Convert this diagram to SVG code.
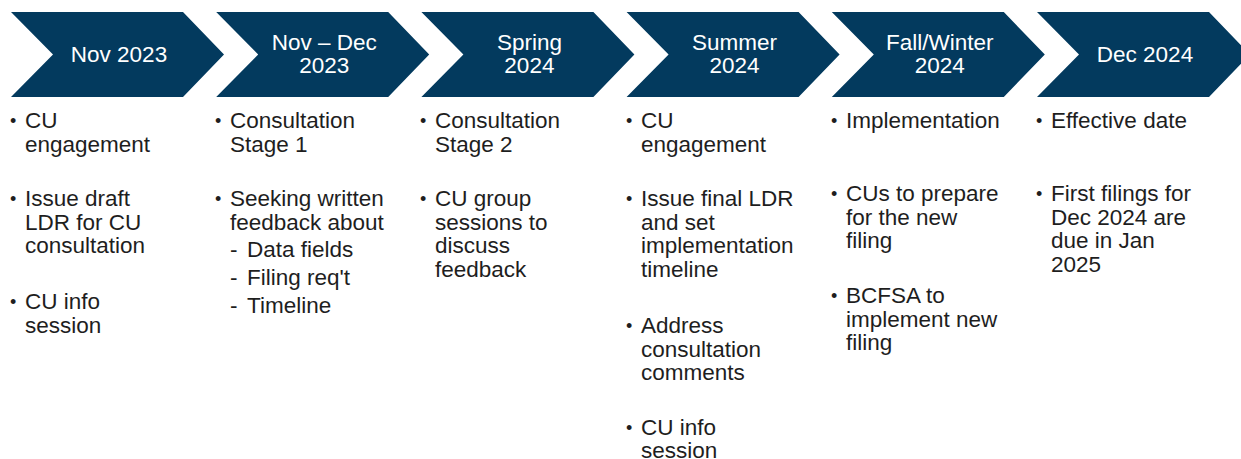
<svg xmlns="http://www.w3.org/2000/svg" width="1241" height="459" viewBox="0 0 1241 459">
<style>
.chev{fill:#033a5e;}
.h{font-family:"Liberation Sans",Arial,sans-serif;font-size:22.5px;fill:#ffffff;text-anchor:middle;}
.b{font-family:"Liberation Sans",Arial,sans-serif;font-size:22.5px;fill:#1e1e1e;}
.d{font-family:"Liberation Sans",Arial,sans-serif;font-size:18px;fill:#1e1e1e;}
</style>
<rect width="1241" height="459" fill="#ffffff"/>
<g id="stage1">
<path class="chev" d="M11,12 L183,12 L224,54.5 L183,97 L11,97 L53,54.5 Z"/>
<text class="h" x="119" y="62">Nov 2023</text>
<text class="d" x="10" y="127">•</text>
<text class="b" x="25" y="128">CU</text>
<text class="b" x="25" y="151.5">engagement</text>
<text class="d" x="10" y="205">•</text>
<text class="b" x="25" y="206">Issue draft</text>
<text class="b" x="25" y="229.5">LDR for CU</text>
<text class="b" x="25" y="253">consultation</text>
<text class="d" x="10" y="308">•</text>
<text class="b" x="25" y="309">CU info</text>
<text class="b" x="25" y="332.5">session</text>
</g>
<g id="stage2">
<path class="chev" d="M216.2,12 L388.2,12 L429.2,54.5 L388.2,97 L216.2,97 L258.2,54.5 Z"/>
<text class="h" x="324.2" y="49.5">Nov – Dec</text>
<text class="h" x="324.2" y="72.5">2023</text>
<text class="d" x="215" y="127">•</text>
<text class="b" x="230" y="128">Consultation</text>
<text class="b" x="230" y="151.5">Stage 1</text>
<text class="d" x="215" y="205">•</text>
<text class="b" x="230" y="206">Seeking written</text>
<text class="b" x="230" y="229.5">feedback about</text>
<text class="b" x="230" y="257">-</text>
<text class="b" x="247" y="257">Data fields</text>
<text class="b" x="230" y="285">-</text>
<text class="b" x="247" y="285">Filing req't</text>
<text class="b" x="230" y="313">-</text>
<text class="b" x="247" y="313">Timeline</text>
</g>
<g id="stage3">
<path class="chev" d="M421.4,12 L593.4,12 L634.4,54.5 L593.4,97 L421.4,97 L463.4,54.5 Z"/>
<text class="h" x="529.4" y="49.5">Spring</text>
<text class="h" x="529.4" y="72.5">2024</text>
<text class="d" x="420" y="127">•</text>
<text class="b" x="435" y="128">Consultation</text>
<text class="b" x="435" y="151.5">Stage 2</text>
<text class="d" x="420" y="205">•</text>
<text class="b" x="435" y="206">CU group</text>
<text class="b" x="435" y="229.5">sessions to</text>
<text class="b" x="435" y="253">discuss</text>
<text class="b" x="435" y="276.5">feedback</text>
</g>
<g id="stage4">
<path class="chev" d="M626.6,12 L798.6,12 L839.6,54.5 L798.6,97 L626.6,97 L668.6,54.5 Z"/>
<text class="h" x="734.6" y="49.5">Summer</text>
<text class="h" x="734.6" y="72.5">2024</text>
<text class="d" x="626" y="127">•</text>
<text class="b" x="641" y="128">CU</text>
<text class="b" x="641" y="151.5">engagement</text>
<text class="d" x="626" y="205">•</text>
<text class="b" x="641" y="206">Issue final LDR</text>
<text class="b" x="641" y="229.5">and set</text>
<text class="b" x="641" y="253">implementation</text>
<text class="b" x="641" y="276.5">timeline</text>
<text class="d" x="626" y="332">•</text>
<text class="b" x="641" y="333">Address</text>
<text class="b" x="641" y="356.5">consultation</text>
<text class="b" x="641" y="380">comments</text>
<text class="d" x="626" y="434">•</text>
<text class="b" x="641" y="435">CU info</text>
<text class="b" x="641" y="457.5">session</text>
</g>
<g id="stage5">
<path class="chev" d="M831.8,12 L1003.8,12 L1044.8,54.5 L1003.8,97 L831.8,97 L873.8,54.5 Z"/>
<text class="h" x="939.8" y="49.5">Fall/Winter</text>
<text class="h" x="939.8" y="72.5">2024</text>
<text class="d" x="831" y="127">•</text>
<text class="b" x="846" y="128">Implementation</text>
<text class="d" x="831" y="200">•</text>
<text class="b" x="846" y="201">CUs to prepare</text>
<text class="b" x="846" y="224.5">for the new</text>
<text class="b" x="846" y="248">filing</text>
<text class="d" x="831" y="302">•</text>
<text class="b" x="846" y="303">BCFSA to</text>
<text class="b" x="846" y="326.5">implement new</text>
<text class="b" x="846" y="350">filing</text>
</g>
<g id="stage6">
<path class="chev" d="M1037,12 L1209,12 L1250,54.5 L1209,97 L1037,97 L1079,54.5 Z"/>
<text class="h" x="1145" y="62">Dec 2024</text>
<text class="d" x="1036" y="127">•</text>
<text class="b" x="1051" y="128">Effective date</text>
<text class="d" x="1036" y="200">•</text>
<text class="b" x="1051" y="201">First filings for</text>
<text class="b" x="1051" y="224.5">Dec 2024 are</text>
<text class="b" x="1051" y="248">due in Jan</text>
<text class="b" x="1051" y="271.5">2025</text>
</g>
<g id="connectors"/>
</svg>
